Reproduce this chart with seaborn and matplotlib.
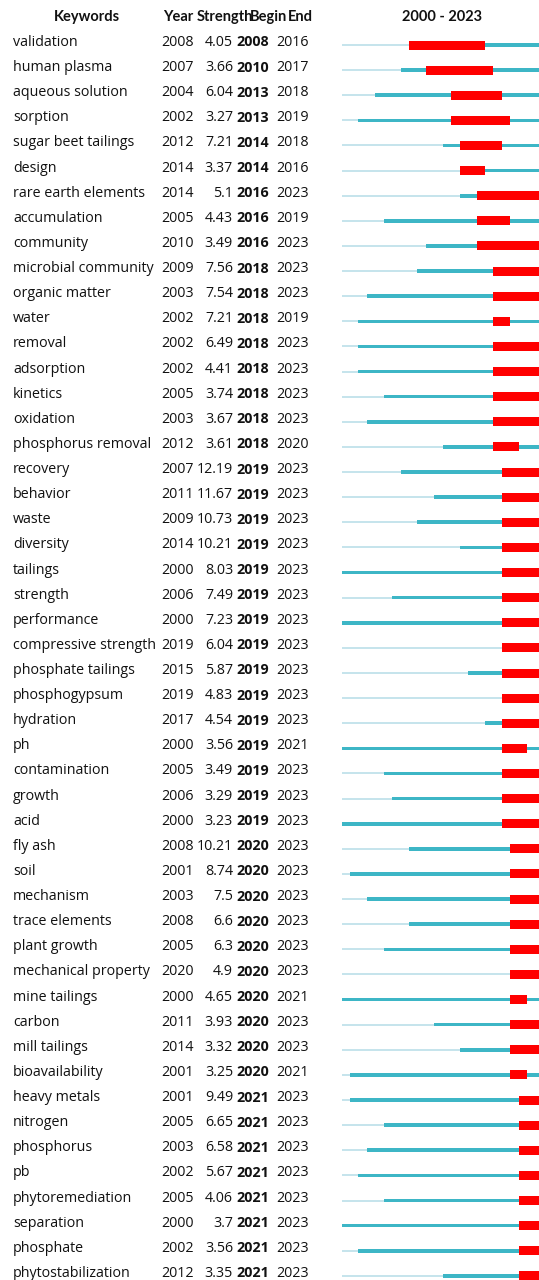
import matplotlib
matplotlib.use("Agg")
import matplotlib.pyplot as plt
import seaborn as sns
import numpy as np

sns.set_theme(style="white")
plt.rcParams["font.family"] = ["Open Sans", "DejaVu Sans"]

keywords = [
    "validation", "human plasma", "aqueous solution", "sorption", "sugar beet tailings",
    "design", "rare earth elements", "accumulation", "community", "microbial community",
    "organic matter", "water", "removal", "adsorption", "kinetics", "oxidation",
    "phosphorus removal", "recovery", "behavior", "waste", "diversity", "tailings",
    "strength", "performance", "compressive strength", "phosphate tailings",
    "phosphogypsum", "hydration", "ph", "contamination", "growth", "acid", "fly ash",
    "soil", "mechanism", "trace elements", "plant growth", "mechanical property",
    "mine tailings", "carbon", "mill tailings", "bioavailability", "heavy metals",
    "nitrogen", "phosphorus", "pb", "phytoremediation", "separation", "phosphate",
    "phytostabilization",
]
years = [
    2008, 2007, 2004, 2002, 2012, 2014, 2014, 2005, 2010, 2009,
    2003, 2002, 2002, 2002, 2005, 2003, 2012, 2007, 2011, 2009,
    2014, 2000, 2006, 2000, 2019, 2015, 2019, 2017, 2000, 2005,
    2006, 2000, 2008, 2001, 2003, 2008, 2005, 2020, 2000, 2011,
    2014, 2001, 2001, 2005, 2003, 2002, 2005, 2000, 2002, 2012,
]
strengths = [
    "4.05", "3.66", "6.04", "3.27", "7.21", "3.37", "5.1", "4.43", "3.49", "7.56",
    "7.54", "7.21", "6.49", "4.41", "3.74", "3.67", "3.61", "12.19", "11.67", "10.73",
    "10.21", "8.03", "7.49", "7.23", "6.04", "5.87", "4.83", "4.54", "3.56", "3.49",
    "3.29", "3.23", "10.21", "8.74", "7.5", "6.6", "6.3", "4.9", "4.65", "3.93",
    "3.32", "3.25", "9.49", "6.65", "6.58", "5.67", "4.06", "3.7", "3.56", "3.35",
]
begins = [
    2008, 2010, 2013, 2013, 2014, 2014, 2016, 2016, 2016, 2018,
    2018, 2018, 2018, 2018, 2018, 2018, 2018, 2019, 2019, 2019,
    2019, 2019, 2019, 2019, 2019, 2019, 2019, 2019, 2019, 2019,
    2019, 2019, 2020, 2020, 2020, 2020, 2020, 2020, 2020, 2020,
    2020, 2020, 2021, 2021, 2021, 2021, 2021, 2021, 2021, 2021,
]
ends = [
    2016, 2017, 2018, 2019, 2018, 2016, 2023, 2019, 2023, 2023,
    2023, 2019, 2023, 2023, 2023, 2023, 2020, 2023, 2023, 2023,
    2023, 2023, 2023, 2023, 2023, 2023, 2023, 2023, 2021, 2023,
    2023, 2023, 2023, 2023, 2023, 2023, 2023, 2023, 2021, 2023,
    2023, 2021, 2023, 2023, 2023, 2023, 2023, 2023, 2023, 2023,
]
span_start, span_end = 2000, 2023

W, H = 539, 1280
fig = plt.figure(figsize=(W / 100, H / 100), dpi=100)
fig.patch.set_facecolor("white")

n = len(keywords)
row_px, first_px = 25.12, 41.0
ylim = ((H - first_px) / row_px, -first_px / row_px)
dy = 1.5 / row_px  # small downward nudge for text

# text table
tax = fig.add_axes([0, 0, 1, 1])
tax.set_xlim(0, W)
tax.set_ylim(*ylim)
tax.axis("off")

fs = 10.3
head_y = -1.0 + dy
hkw = dict(fontsize=10.5, fontweight="bold", va="center", color="#111111",
           family=["Lato", "DejaVu Sans"])
tax.text(87, head_y, "Keywords", ha="center", **hkw)
tax.text(163, head_y, "Year", ha="left", **hkw)
tax.text(197, head_y, "Strength", ha="left", **hkw)
tax.text(250, head_y, "Begin", ha="left", **hkw)
tax.text(288, head_y, "End", ha="left", **hkw)
tax.text(442, head_y, f"{span_start} - {span_end}", ha="center", **hkw)

rows = np.arange(n)
for i in rows:
    kw = dict(fontsize=fs, va="center", color="#111111")
    y = i + dy
    tax.text(13, y, keywords[i], ha="left", **kw)
    tax.text(161, y, str(years[i]), ha="left", **kw)
    tax.text(233, y, strengths[i], ha="right", **kw)
    tax.text(236, y, str(begins[i]), ha="left", fontweight="bold", **kw)
    tax.text(276, y, str(ends[i]), ha="left", **kw)

# burst timeline
x0_px, x1_px = 341.5, 544.0
bax = fig.add_axes([x0_px / W, 0, (x1_px - x0_px) / W, 1])
bax.set_xlim(span_start, span_end + 1)
bax.set_ylim(*ylim)
bax.axis("off")
bax.patch.set_alpha(0)

yb = rows + 4 / row_px
yrs = np.array(years)
bg = np.array(begins)
en = np.array(ends)
bax.barh(yb, yrs - span_start, left=span_start, height=2 / row_px,
         color="#c6e4ec", linewidth=0)
bax.barh(yb, span_end + 1 - yrs, left=yrs, height=3.6 / row_px,
         color="#3db6c6", linewidth=0)
bax.barh(yb, en + 1 - bg, left=bg, height=9 / row_px,
         color="#ff0000", linewidth=0)

fig.savefig("out.png", dpi=100, facecolor="white")
